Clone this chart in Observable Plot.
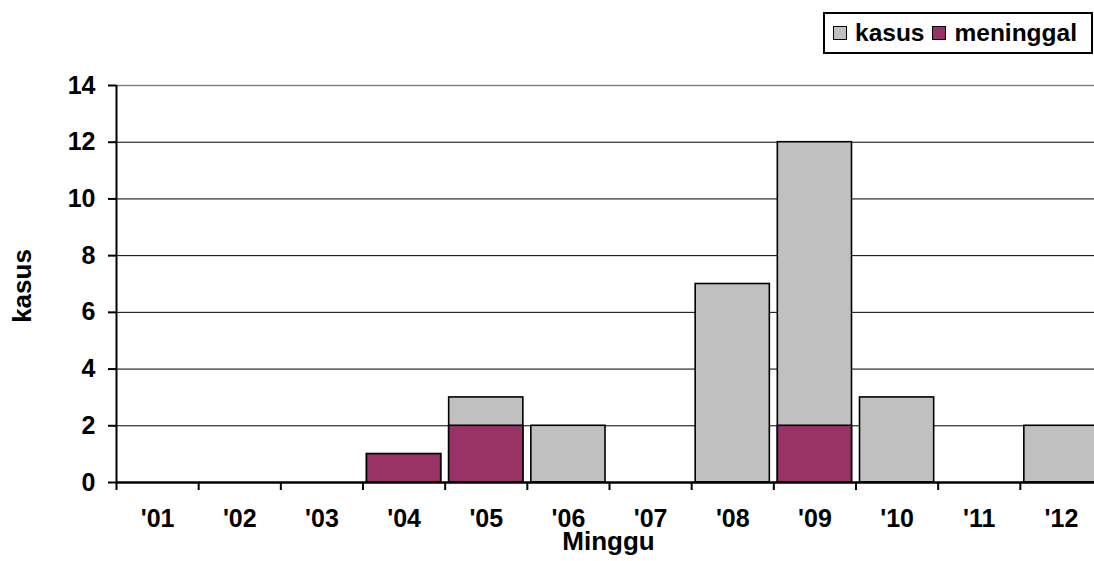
<!DOCTYPE html>
<html>
<head>
<meta charset="utf-8">
<script src="https://cdn.jsdelivr.net/npm/d3@7"></script>
<script src="https://cdn.jsdelivr.net/npm/@observablehq/plot@0.6"></script>
<style>
  html, body { margin: 0; padding: 0; background: #fff; overflow: hidden; width: 1094px; height: 561px; }
  #wrap { position: relative; width: 1094px; height: 561px; overflow: hidden; font-family: "Liberation Sans", Arial, sans-serif; }
  #legend { position: absolute; left: 823px; top: 12px; width: 266px; height: 38px; border: 2px solid #000; background: #fff;
            display: flex; align-items: center; font-weight: bold; font-size: 24.5px; color: #000; }
  .sw { display: inline-block; width: 12px; height: 12px; border: 1.5px solid #000; margin-left: 8px; margin-right: 8px; }
  #chart svg { display: block; max-width: none !important; width: 1102px; height: 561px; }
</style>
</head>
<body>
<div id="wrap">
  <div id="chart"></div>
  <div id="legend"></div>
</div>
<script>
const weeks = ["'01", "'02", "'03", "'04", "'05", "'06", "'07", "'08", "'09", "'10", "'11", "'12"];
const kasus = [0, 0, 0, 1, 3, 2, 0, 7, 12, 3, 0, 2];
const meninggal = [0, 0, 0, 1, 2, 0, 0, 0, 2, 0, 0, 0];
const yTicks = [0, 2, 4, 6, 8, 10, 12, 14];
const seriesNames = ["kasus", "meninggal"];
const seriesColors = ["#C0C0C0", "#993366"];

const rows = weeks.map((w, i) => ({i, w, kasus: kasus[i], meninggal: meninggal[i]}));
const font = "'Liberation Sans', Arial, sans-serif";

const plot = Plot.plot({
  width: 1102,
  height: 561,
  marginLeft: 116,
  marginRight: 0,
  marginTop: 85,
  marginBottom: 79,
  style: {fontFamily: font, background: "transparent", overflow: "visible", maxWidth: "none"},
  x: {type: "linear", domain: [0, weeks.length], axis: null},
  y: {domain: [0, 14], axis: null},
  marks: [
    Plot.ruleY(yTicks.filter(t => t > 0 && t < 14), {stroke: "#000", strokeWidth: 1}),
    Plot.ruleY([14], {stroke: "#808080", strokeWidth: 1.5}),
    Plot.rectY(rows.filter(d => d.kasus > 0), {x1: "i", x2: d => d.i + 1, y: "kasus", fill: seriesColors[0], stroke: "#000", strokeWidth: 1.6, insetLeft: 4, insetRight: 4}),
    Plot.rectY(rows.filter(d => d.meninggal > 0), {x1: "i", x2: d => d.i + 1, y: "meninggal", fill: seriesColors[1], stroke: "#000", strokeWidth: 1.6, insetLeft: 4, insetRight: 4}),
    Plot.axisY({ticks: yTicks, tickSize: 8, tickPadding: 13, fontSize: 25, fontWeight: "bold", label: null, strokeWidth: 2}),
    Plot.axisX({ticks: d3.range(weeks.length + 1), tickSize: 8, tickFormat: () => "", label: null, strokeWidth: 2}),
    Plot.axisX({ticks: weeks.map((w, i) => i + 0.5), tickSize: 0, tickPadding: 27, tickFormat: d => weeks[Math.floor(d)], fontSize: 25, fontWeight: "bold", label: null}),
    Plot.ruleY([0], {stroke: "#000", strokeWidth: 2.5}),
    Plot.ruleX([0], {stroke: "#000", strokeWidth: 2}),
    Plot.text(["Minggu"], {frameAnchor: "bottom", lineAnchor: "middle", textAnchor: "middle", dy: 59, dx: -1, fontSize: 26, fontWeight: "bold", fill: "#000"}),
    Plot.text(["kasus"], {frameAnchor: "left", lineAnchor: "middle", textAnchor: "middle", rotate: -90, dx: -94, dy: 2, fontSize: 26, fontWeight: "bold", fill: "#000"})
  ]
});
document.getElementById("chart").appendChild(plot);

const legend = document.getElementById("legend");
seriesNames.forEach((name, k) => {
  const sw = document.createElement("span");
  sw.className = "sw";
  sw.style.background = seriesColors[k];
  legend.appendChild(sw);
  const t = document.createElement("span");
  t.textContent = name;
  legend.appendChild(t);
});
</script>
</body>
</html>
